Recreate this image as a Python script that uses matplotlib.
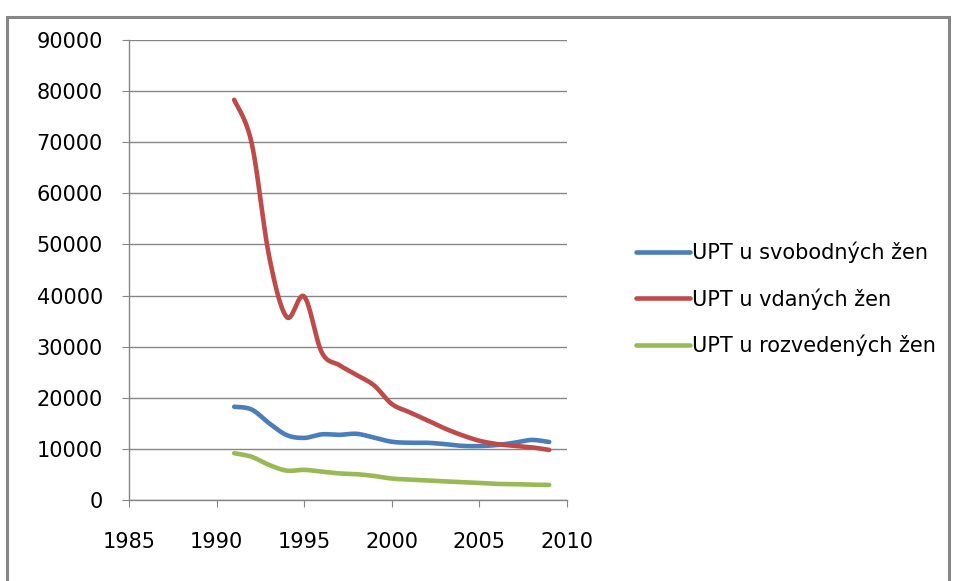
import numpy as np
import matplotlib
matplotlib.use("Agg")
import matplotlib.pyplot as plt
from matplotlib.patches import Rectangle

plt.rcParams['font.family'] = ['DejaVu Sans']

# data
years = list(range(1991, 2010))
svobodne = [18250, 17700, 15000, 12700, 12150, 12850, 12750, 12950, 12200,
            11400, 11200, 11200, 10950, 10600, 10550, 10750, 11200, 11750, 11350]
vdane = [78300, 69800, 47600, 35800, 39800, 28900, 26400, 24450, 22400,
         18800, 17200, 15650, 14050, 12700, 11600, 10950, 10600, 10300, 9800]
rozvedene = [9150, 8450, 6850, 5750, 5900, 5550, 5200, 5050, 4700,
             4200, 4000, 3850, 3650, 3500, 3350, 3150, 3100, 3000, 2950]

labels = ['UPT u svobodných žen', 'UPT u vdaných žen', 'UPT u rozvedených žen']
colors = ['#4a7ebb', '#be4b48', '#98b954']
xticks = [1985, 1990, 1995, 2000, 2005, 2010]
yticks = list(range(0, 90001, 10000))


def smooth(x, y, n=30):
    # excel-like smoothed line (catmull-rom as bezier)
    x = np.asarray(x, float)
    y = np.asarray(y, float)
    px = np.concatenate([[x[0]], x, [x[-1]]])
    py = np.concatenate([[y[0]], y, [y[-1]]])
    xs, ys = [], []
    t = np.linspace(0, 1, n)
    for i in range(1, len(px) - 2):
        p0 = np.array([px[i], py[i]])
        p3 = np.array([px[i + 1], py[i + 1]])
        c1 = p0 + (np.array([px[i + 1], py[i + 1]]) - np.array([px[i - 1], py[i - 1]])) / 6
        c2 = p3 - (np.array([px[i + 2], py[i + 2]]) - np.array([px[i], py[i]])) / 6
        b = ((1 - t) ** 3)[:, None] * p0 + (3 * (1 - t) ** 2 * t)[:, None] * c1 \
            + (3 * (1 - t) * t ** 2)[:, None] * c2 + (t ** 3)[:, None] * p3
        xs.extend(b[:, 0])
        ys.extend(b[:, 1])
    return xs, ys


fig = plt.figure(figsize=(9.55, 5.81), dpi=100)
ax = fig.add_axes([129.2 / 955, 81 / 581, (566.7 - 129.2) / 955, 460 / 581])

for vals, lab, col in zip([svobodne, vdane, rozvedene], labels, colors):
    sx, sy = smooth(years, vals)
    ax.plot(sx, sy, color=col, lw=3.3, label=lab, solid_capstyle='round')

ax.set_xlim(1985, 2010)
ax.set_ylim(0, 90000)
ax.set_xticks(xticks)
ax.set_yticks(yticks)
ax.yaxis.grid(True, color='#868686', lw=1.0)
ax.set_axisbelow(True)
for s in ['top', 'right']:
    ax.spines[s].set_visible(False)
for s in ['left', 'bottom']:
    ax.spines[s].set_color('#868686')
    ax.spines[s].set_linewidth(1.0)
ax.tick_params(axis='y', length=5, color='#868686', pad=14, labelsize=15)
ax.tick_params(axis='x', length=5, color='#868686', pad=18, labelsize=15)

fig.legend(loc='center left', bbox_to_anchor=(636 / 955, 1 - 299 / 581),
           frameon=False, fontsize=15, handlelength=2.6, handletextpad=0.1,
           labelspacing=1.2, borderpad=0, borderaxespad=0)

# outer gray frame of the chart
fig.patches.append(Rectangle((7 / 955, -0.1), (949 - 7) / 955, 1.1 - 17 / 581,
                             transform=fig.transFigure, fill=False,
                             edgecolor='#868686', lw=2.2, clip_on=False))

fig.savefig('out.png', dpi=100)
